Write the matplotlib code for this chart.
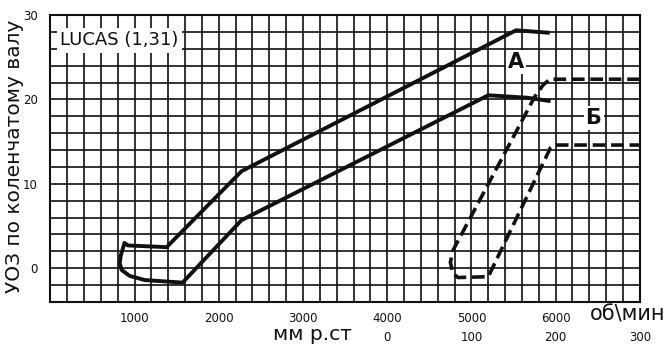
import numpy as np
import matplotlib.pyplot as plt
from matplotlib.ticker import MultipleLocator

# centrifugal advance band, one continuous solid line (rpm, degrees)
solid_rpm = [5930, 5530, 2270, 1380, 920, 880, 836, 823, 846, 940, 1120, 1570, 2270, 5200, 5670, 5940]
solid_deg = [27.9, 28.2, 11.5, 2.5, 2.7, 3.0, 1.5, 0.6, -0.2, -0.9, -1.4, -1.7, 5.7, 20.5, 20.2, 19.8]

# vacuum advance band, dashed (mm Hg, degrees)
vac_mm = [300, 193, 185, 175, 78, 75, 78, 84, 120, 194, 198, 300]
vac_deg = [22.4, 22.4, 21.7, 20.3, 2.1, 0.7, -0.6, -1.1, -1.0, 14.3, 14.6, 14.6]

# tick labels
rpm_ticks = [1000, 2000, 3000, 4000, 5000, 6000]
mm_ticks = [0, 100, 200, 300]
deg_ticks = [0, 10, 20, 30]

ink = "#111111"

fig = plt.figure(figsize=(6.7, 3.51), dpi=100)
ax = fig.add_axes([0.0752, 0.1396, 0.8798, 0.8174])
ax.set_xlim(0, 7000)
ax.set_ylim(-4, 30)

# grid every 200 rpm / 2 degrees
ax.xaxis.set_major_locator(plt.FixedLocator(rpm_ticks))
ax.xaxis.set_minor_locator(MultipleLocator(200))
ax.yaxis.set_major_locator(plt.FixedLocator(deg_ticks))
ax.yaxis.set_minor_locator(MultipleLocator(2))
ax.grid(True, which="both", color=ink, linewidth=1.2)
ax.set_axisbelow(True)
ax.tick_params(which="both", length=0)
ax.tick_params(axis="x", pad=7, labelsize=8.5, labelcolor=ink)
ax.tick_params(axis="y", pad=9, labelsize=8.5, labelcolor=ink)
for sp in ax.spines.values():
    sp.set_linewidth(1.5)
    sp.set_color(ink)

ax.plot(solid_rpm, solid_deg, color=ink, linewidth=2.8, solid_joinstyle="round", solid_capstyle="butt")

# second scale for vacuum, 0 mm at 4000 rpm, 300 mm at 7000 rpm
ax2 = ax.twiny()
ax2.set_xlim(-400, 300)
ax2.set_ylim(-4, 30)
ax2.xaxis.set_ticks_position("bottom")
ax2.spines["bottom"].set_position(("outward", 14))
for sp in ax2.spines.values():
    sp.set_visible(False)
ax2.set_xticks(mm_ticks)
ax2.tick_params(length=0, pad=7, labelsize=8.5, labelcolor=ink)
ax2.plot(vac_mm, vac_deg, color=ink, linewidth=2.6, linestyle=(0, (3.5, 1.6)), clip_on=True)

# labels inside the grid
ax.text(115, 27.0, "LUCAS (1,31)", fontsize=13, color=ink, va="center", ha="left",
        bbox=dict(facecolor="white", edgecolor="none", pad=2.5), zorder=5)
ax.text(5527, 24.4, "А", fontsize=15, fontweight="bold", color=ink, ha="center", va="center",
        bbox=dict(facecolor="white", edgecolor="none", pad=1.5), zorder=5)
ax.text(6450, 17.8, "Б", fontsize=15, fontweight="bold", color=ink, ha="center", va="center",
        bbox=dict(facecolor="white", edgecolor="none", pad=1.5), zorder=5)

# axis titles
fig.text(0.022, 0.555, "УОЗ по коленчатому валу", rotation=90, fontsize=14.5, color=ink,
         ha="center", va="center")
fig.text(0.466, 0.046, "мм р.ст", fontsize=14.5, color=ink, ha="center", va="center")
fig.text(0.937, 0.105, "об\\мин", fontsize=15, color=ink, ha="center", va="center")

plt.savefig("out.png", dpi=100)
